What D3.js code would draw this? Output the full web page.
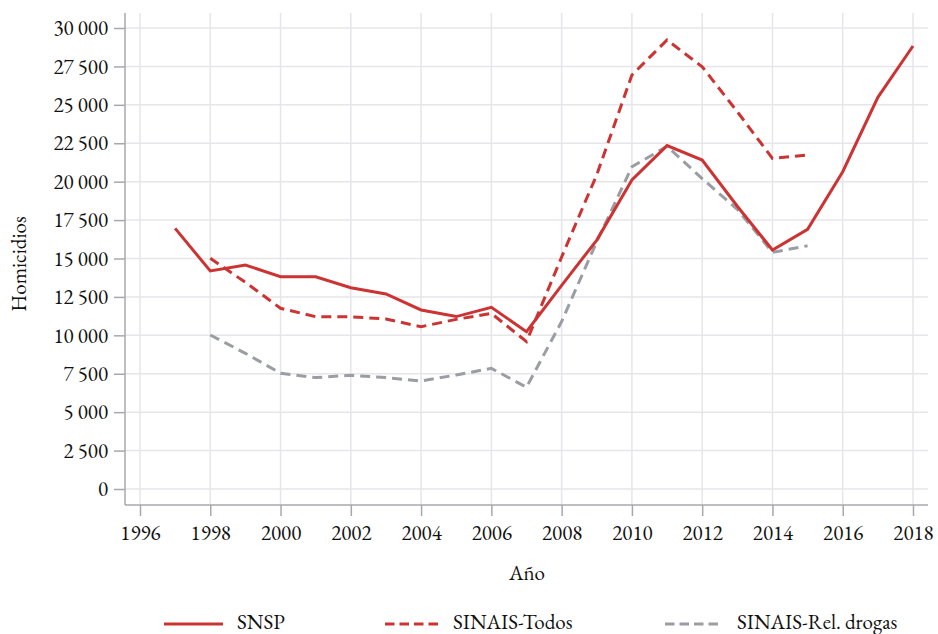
<!DOCTYPE html>
<html>
<head>
<meta charset="utf-8">
<script src="https://cdn.jsdelivr.net/npm/d3@7"></script>
<style>
  html, body { margin: 0; padding: 0; background: #fff; }
  svg { display: block; }
</style>
</head>
<body>
<svg id="chart" width="938" height="634"></svg>
<script>
const snspYears = [1997,1998,1999,2000,2001,2002,2003,2004,2005,2006,2007,2008,2009,2010,2011,2012,2013,2014,2015,2016,2017,2018];
const snsp = [16960,14190,14580,13810,13810,13100,12690,11650,11220,11820,10240,13250,16200,20110,22350,21410,18400,15550,16900,20650,25490,28830];
const sinaisYears = [1998,1999,2000,2001,2002,2003,2004,2005,2006,2007,2008,2009,2010,2011,2012,2013,2014,2015];
const sinaisTodos = [15010,13450,11760,11210,11210,11060,10560,11040,11430,9590,15100,20450,26940,29220,27480,24550,21520,21730];
const sinaisDrogas = [10020,8830,7530,7250,7400,7250,7030,7420,7850,6620,10900,16100,20970,22300,20200,18200,15400,15830];
const xTicks = [1996,1998,2000,2002,2004,2006,2008,2010,2012,2014,2016,2018];
const yTicks = [0,2500,5000,7500,10000,12500,15000,17500,20000,22500,25000,27500,30000];
const seriesNames = ["SNSP","SINAIS-Todos","SINAIS-Rel. drogas"];

const FONT = "'EB Garamond', 'Liberation Serif', serif";
const FS = "21px";
const TXT = "#111";
const RED = "#cc3333", GRAY = "#9a9ea3", AXIS = "#a8a8ac", GRID = "#e6e6ea";
const svg = d3.select("#chart");
const pLeft = 125, pRight = 928, pTop = 13, pBottom = 505;

const x = d3.scaleLinear().domain([1996, 2018]).range([140, 913]);
const y = d3.scaleLinear().domain([0, 30000]).range([489, 28]);

// grid
const g = svg.append("g");
g.selectAll("line.vg").data(xTicks).join("line").attr("class", "vg")
  .attr("x1", d => x(d)).attr("x2", d => x(d))
  .attr("y1", pTop).attr("y2", pBottom)
  .attr("stroke", GRID).attr("stroke-width", 1.5);
g.selectAll("line.hg").data(yTicks).join("line").attr("class", "hg")
  .attr("x1", pLeft).attr("x2", pRight)
  .attr("y1", d => y(d)).attr("y2", d => y(d))
  .attr("stroke", GRID).attr("stroke-width", 1.5);

// axes
const yAxis = d3.axisLeft(y).tickValues(yTicks).tickSize(11).tickPadding(6)
  .tickFormat(d => d3.format(",")(d).replace(/,/g, " "));
const ya = svg.append("g").attr("transform", `translate(${pLeft},0)`).call(yAxis);
ya.select(".domain").remove();
ya.selectAll(".tick line").attr("stroke", AXIS).attr("stroke-width", 1.5);
ya.selectAll(".tick text").style("font-size", FS).style("font-family", FONT).style("fill", TXT);
svg.append("line").attr("x1", pLeft).attr("x2", pLeft).attr("y1", pTop).attr("y2", pBottom)
  .attr("stroke", AXIS).attr("stroke-width", 1.5);

const xAxis = d3.axisBottom(x).tickValues(xTicks).tickSize(11).tickPadding(9).tickFormat(d3.format("d"));
const xa = svg.append("g").attr("transform", `translate(0,${pBottom})`).call(xAxis);
xa.select(".domain").remove();
xa.selectAll(".tick line").attr("stroke", AXIS).attr("stroke-width", 1.5);
xa.selectAll(".tick text").style("font-size", FS).style("font-family", FONT).style("fill", TXT);
svg.append("line").attr("x1", pLeft).attr("x2", pRight).attr("y1", pBottom).attr("y2", pBottom)
  .attr("stroke", AXIS).attr("stroke-width", 1.5);

// titles
svg.append("text").attr("x", 527).attr("y", 572).attr("text-anchor", "middle")
  .attr("dominant-baseline", "central")
  .style("font-size", FS).style("font-family", FONT).style("fill", TXT).text("Año");
svg.append("text").attr("transform", "translate(18,264) rotate(-90)").attr("text-anchor", "middle")
  .attr("dominant-baseline", "central")
  .style("font-size", FS).style("font-family", FONT).style("fill", TXT).text("Homicidios");

// lines
const line = d3.line().x(d => x(d[0])).y(d => y(d[1]));
const s1 = snspYears.map((yr, i) => [yr, snsp[i]]);
const s2 = sinaisYears.map((yr, i) => [yr, sinaisTodos[i]]);
const s3 = sinaisYears.map((yr, i) => [yr, sinaisDrogas[i]]);

svg.append("path").datum(s3).attr("d", line).attr("fill", "none")
  .attr("stroke", GRAY).attr("stroke-width", 3).attr("stroke-dasharray", "10,6");
svg.append("path").datum(s2).attr("d", line).attr("fill", "none")
  .attr("stroke", RED).attr("stroke-width", 3).attr("stroke-dasharray", "10,6");
svg.append("path").datum(s1).attr("d", line).attr("fill", "none")
  .attr("stroke", RED).attr("stroke-width", 3);

// legend
const legend = [
  {name: seriesNames[0], color: RED, dash: null, x0: 164, x1: 223, tx: 237},
  {name: seriesNames[1], color: RED, dash: "9.5,5", x0: 385, x1: 438, tx: 453},
  {name: seriesNames[2], color: GRAY, dash: "9.5,5", x0: 665, x1: 722, tx: 737}
];
const lg = svg.append("g");
legend.forEach(l => {
  lg.append("line").attr("x1", l.x0).attr("x2", l.x1).attr("y1", 624).attr("y2", 624)
    .attr("stroke", l.color).attr("stroke-width", 3).attr("stroke-dasharray", l.dash);
  lg.append("text").attr("x", l.tx).attr("y", 621).attr("dominant-baseline", "central")
    .style("font-size", FS).style("font-family", FONT).style("fill", TXT).text(l.name);
});
</script>
</body>
</html>
